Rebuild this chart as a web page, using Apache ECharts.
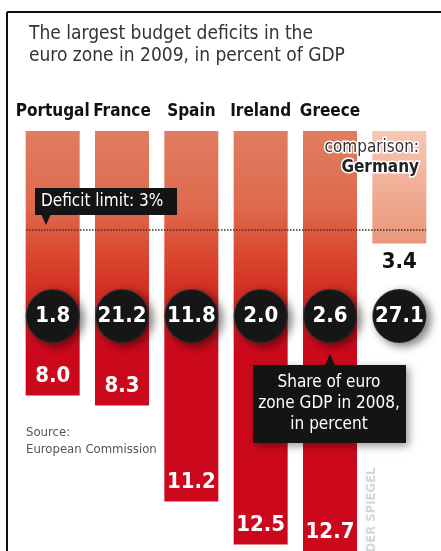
<!DOCTYPE html>
<html>
<head>
    <meta charset="utf-8">
    <title>ECharts</title>
    <script src="https://cdn.jsdelivr.net/npm/echarts@6/dist/echarts.min.js"></script>
    <style>
      body, canvas {
        padding: 0;
        margin: 0;
        background: #fff;
      }
    </style>
</head>
<body>
    <div id="main"></div>
    <script type="text/javascript">
      const main = document.getElementById('main')
      main.style.width = window.innerWidth + 'px'
      main.style.height = window.innerHeight + 'px'
      var myChart = echarts.init(main);

      const countries = ['Portugal', 'France', 'Spain', 'Ireland', 'Greece', 'Germany'];
      const deficits = [8.0, 8.3, 11.2, 12.5, 12.7, 3.4];   // deficit 2009, % of GDP
      const gdpShare = [1.8, 21.2, 11.8, 2.0, 2.6, 27.1];   // share of euro zone GDP 2008, %
      const deficitLimit = 3;

      const FONT = '"DejaVu Sans Condensed", "Liberation Sans Narrow", sans-serif';

      const redFill = {
        type: 'linear', x: 0, y: 131, x2: 0, y2: 551, global: true,
        colorStops: [
          { offset: 0, color: '#e17d60' },
          { offset: 0.18, color: '#de6a4e' },
          { offset: 0.30, color: '#d9462f' },
          { offset: 0.42, color: '#d1221e' },
          { offset: 0.52, color: '#cc081c' },
          { offset: 1, color: '#cc081c' }
        ]
      };
      const paleFill = {
        type: 'linear', x: 0, y: 131, x2: 0, y2: 244, global: true,
        colorStops: [
          { offset: 0, color: '#f6c7b4' },
          { offset: 1, color: '#eb9678' }
        ]
      };

      const barData = deficits.map((v, i) => {
        const last = countries[i] === 'Germany';
        return {
          value: v,
          itemStyle: { color: last ? paleFill : redFill },
          label: last ? { position: 'bottom', distance: 8, color: '#111' } : {}
        };
      });

      const Z = 100;

      option = {
        animation: false,
        title: {
          text: 'The largest budget deficits in the\neuro zone in 2009, in percent of GDP',
          left: 24,
          top: 18,
          textStyle: {
            fontFamily: FONT,
            fontSize: 19,
            fontWeight: 'normal',
            color: '#333',
            lineHeight: 22
          }
        },
        grid: { left: 18, right: 7, top: 131, bottom: -2 },
        xAxis: {
          type: 'category',
          position: 'top',
          data: countries,
          axisLine: { show: false },
          axisTick: { show: false },
          axisLabel: {
            margin: 11,
            interval: 0,
            fontFamily: FONT,
            fontSize: 17,
            fontWeight: 'bold',
            color: '#111',
            formatter: v => v === 'Germany' ? '' : v
          }
        },
        yAxis: {
          type: 'value',
          inverse: true,
          min: 0,
          max: v => v.max,
          show: false,
          splitLine: { show: false }
        },
        series: [
          {
            type: 'bar',
            barWidth: 54,
            data: barData,
            label: {
              show: true,
              position: 'insideBottom',
              distance: 8,
              fontFamily: FONT,
              fontSize: 22,
              fontWeight: 'bold',
              color: '#fff',
              formatter: p => p.value.toFixed(1)
            },
            markLine: {
              silent: true,
              symbol: 'none',
              label: { show: false },
              lineStyle: { color: '#333', type: 'dotted', width: 1.5 },
              data: [[{ yAxis: deficitLimit, x: 26 }, { yAxis: deficitLimit, x: 426 }]]
            }
          },
          {
            // transparent twin of the bars, carries the GDP share discs
            type: 'bar',
            barWidth: 54,
            barGap: '-100%',
            data: deficits,
            itemStyle: { color: 'rgba(0,0,0,0)' },
            z: 3,
            label: {
              show: true,
              position: ['50%', 185],
              align: 'center',
              verticalAlign: 'middle',
              width: 52,
              height: 52,
              lineHeight: 52,
              borderRadius: 26,
              backgroundColor: '#161616',
              borderColor: '#3a3a3a',
              borderWidth: 1,
              shadowColor: 'rgba(0,0,0,0.5)',
              shadowBlur: 8,
              shadowOffsetX: 4,
              shadowOffsetY: 3,
              fontFamily: FONT,
              fontSize: 22,
              fontWeight: 'bold',
              color: '#fff',
              formatter: p => gdpShare[p.dataIndex].toFixed(1)
            }
          }
        ],
        graphic: [
          // frame
          { type: 'line', z: Z, shape: { x1: 7, y1: 12, x2: 441, y2: 12 }, style: { stroke: '#111', lineWidth: 2 } },
          { type: 'line', z: Z, shape: { x1: 7, y1: 12, x2: 7, y2: 551 }, style: { stroke: '#111', lineWidth: 2 } },
          // deficit limit callout
          { type: 'rect', z: Z, shape: { x: 35, y: 188, width: 142, height: 27 }, style: { fill: '#141414' } },
          { type: 'polygon', z: Z, shape: { points: [[41, 214], [51, 214], [46, 225]] }, style: { fill: '#141414' } },
          { type: 'text', z: Z + 1, x: 41, y: 202, style: { text: 'Deficit limit: 3%', fill: '#fff', font: '17px ' + FONT, verticalAlign: 'middle' } },
          // Germany heading
          {
            type: 'text', x: 419, y: 158, z: Z,
            style: {
              text: '{a|comparison:}\n{b|Germany}',
              align: 'right', verticalAlign: 'middle',
              rich: {
                a: { font: '17px ' + FONT, fill: '#333', stroke: '#fff', lineWidth: 3, lineHeight: 20, align: 'right' },
                b: { font: 'bold 17px ' + FONT, fill: '#222', stroke: '#fff', lineWidth: 3, lineHeight: 20, align: 'right' }
              }
            }
          },
          // share of GDP callout
          { type: 'rect', z: Z, shape: { x: 253, y: 365, width: 153, height: 78 }, style: { fill: '#141414', shadowColor: 'rgba(0,0,0,0.4)', shadowBlur: 8, shadowOffsetX: 3, shadowOffsetY: 3 } },
          { type: 'polygon', z: Z, shape: { points: [[325, 366], [335, 366], [330, 353]] }, style: { fill: '#141414' } },
          { type: 'text', z: Z + 1, x: 329, y: 404, style: { text: 'Share of euro\nzone GDP in 2008,\nin percent', fill: '#fff', font: '17px ' + FONT, align: 'center', verticalAlign: 'middle', lineHeight: 21 } },
          // source
          {
            type: 'text', z: Z, x: 26, y: 441,
            style: { text: 'Source:\nEuropean Commission', fill: '#555', font: '13px ' + FONT, verticalAlign: 'middle', lineHeight: 17 }
          },
          // watermark
          {
            type: 'text', z: Z, x: 372, y: 510, rotation: Math.PI / 2,
            style: { text: 'DER SPIEGEL', fill: '#d6d6d6', font: 'bold 13px ' + FONT, align: 'center', verticalAlign: 'middle' }
          }
        ]
      };
      myChart.setOption(option);
    </script>
</body>
</html>
